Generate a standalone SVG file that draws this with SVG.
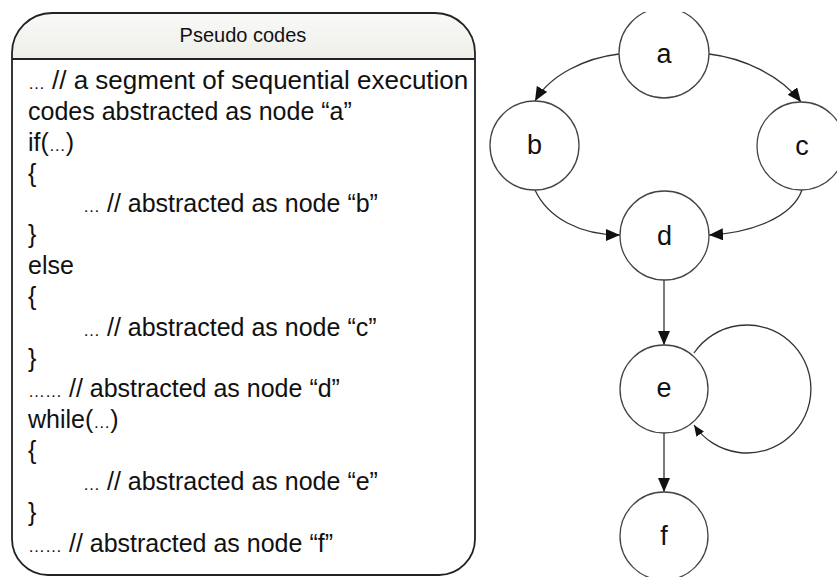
<svg xmlns="http://www.w3.org/2000/svg" width="837" height="577" viewBox="0 0 837 577">
<style>
  .code { font-family: "Liberation Sans", Arial, sans-serif; font-size: 25px; fill: #111; white-space: pre; }
  .el { font-size: 17px; }
  .hdr { font-family: "Liberation Sans", Arial, sans-serif; font-size: 20px; fill: #111; text-anchor: middle; }
  .node circle { fill: #fff; stroke: #444; stroke-width: 1.3; }
  .node text { font-family: "Liberation Sans", Arial, sans-serif; font-size: 27px; fill: #111; text-anchor: middle; }
  .edge { fill: none; stroke: #333; stroke-width: 1.3; }
</style>
<defs>
  <linearGradient id="hg" x1="0" y1="0" x2="0" y2="1">
    <stop offset="0" stop-color="#f9f9f7"/>
    <stop offset="1" stop-color="#eeeee9"/>
  </linearGradient>
  <marker id="arr" markerUnits="userSpaceOnUse" markerWidth="15" markerHeight="13" refX="14" refY="6" orient="auto" viewBox="0 0 15 13">
    <path d="M0,0 L14,6 L0,12 Z" fill="#111"/>
  </marker>
  <marker id="arrS" markerUnits="userSpaceOnUse" markerWidth="12" markerHeight="10" refX="11" refY="4.5" orient="auto" viewBox="0 0 12 10">
    <path d="M0,0 L11,4.5 L0,9 Z" fill="#111"/>
  </marker>
  <clipPath id="topclip"><rect x="0" y="12" width="837" height="565"/></clipPath>
</defs>

<g id="pseudo-codes">
  <path d="M12 59 L12 53 A40 40 0 0 1 52 13 L435 13 A40 40 0 0 1 475 53 L475 59 Z" fill="url(#hg)"/>
  <path d="M52 13 L435 13 A40 40 0 0 1 475 53 L475 539 A36 36 0 0 1 439 575 L48 575 A36 36 0 0 1 12 539 L12 53 A40 40 0 0 1 52 13 Z" fill="none" stroke="#222" stroke-width="1.8"/>
  <line x1="12" y1="59" x2="475" y2="59" stroke="#222" stroke-width="1.8"/>
  <text class="hdr" x="243" y="42">Pseudo codes</text>
  <text class="code" x="28" y="89"><tspan class="el">…  </tspan><tspan x="52" font-size="26">// a segment of sequential execution</tspan></text>
  <text class="code" x="28" y="120">codes abstracted as node “a”</text>
  <text class="code" x="28" y="151">if(<tspan class="el">…</tspan>)</text>
  <text class="code" x="28" y="182">{</text>
  <text class="code" x="83" y="212"><tspan class="el">…</tspan> // abstracted as node “b”</text>
  <text class="code" x="28" y="243">}</text>
  <text class="code" x="28" y="274">else</text>
  <text class="code" x="28" y="305">{</text>
  <text class="code" x="83" y="336"><tspan class="el">…</tspan> // abstracted as node “c”</text>
  <text class="code" x="28" y="367">}</text>
  <text class="code" x="28" y="397"><tspan class="el">……</tspan> // abstracted as node “d”</text>
  <text class="code" x="28" y="428">while(<tspan class="el">…</tspan>)</text>
  <text class="code" x="28" y="459">{</text>
  <text class="code" x="83" y="490"><tspan class="el">…</tspan> // abstracted as node “e”</text>
  <text class="code" x="28" y="521">}</text>
  <text class="code" x="28" y="552"><tspan class="el">……</tspan> // abstracted as node “f”</text>
</g>

<g id="connectors">
  <path class="edge" d="M619 54 C585 58 550 75 535 101" marker-end="url(#arr)"/>
  <path class="edge" d="M709 54 C743 58 780 75 801 102" marker-end="url(#arr)"/>
  <path class="edge" d="M535 190 C548 218 580 235 620 235" marker-end="url(#arr)"/>
  <path class="edge" d="M802 190 C792 218 750 233 709 235" marker-end="url(#arr)"/>
  <path class="edge" d="M664 280 L664 345" marker-end="url(#arr)"/>
  <path class="edge" d="M664 433 L664 492" marker-end="url(#arr)"/>
  <path class="edge" d="M694 353 A64 64 0 1 1 694 425" marker-end="url(#arrS)"/>
</g>

<g id="node-a" class="node" clip-path="url(#topclip)">
  <circle cx="664" cy="53" r="45"/>
  <text x="664" y="63">a</text>
</g>
<g id="node-b" class="node">
  <circle cx="534.5" cy="145.5" r="44.5"/>
  <text x="534.5" y="154">b</text>
</g>
<g id="node-c" class="node">
  <circle cx="801" cy="146" r="44"/>
  <text x="802" y="155">c</text>
</g>
<g id="node-d" class="node">
  <circle cx="664.5" cy="235.5" r="44.5"/>
  <text x="664.5" y="245">d</text>
</g>
<g id="node-e" class="node">
  <circle cx="664" cy="389" r="44"/>
  <text x="664" y="397">e</text>
</g>
<g id="node-f" class="node">
  <circle cx="664" cy="536" r="44"/>
  <text x="664" y="545">f</text>
</g>
</svg>
